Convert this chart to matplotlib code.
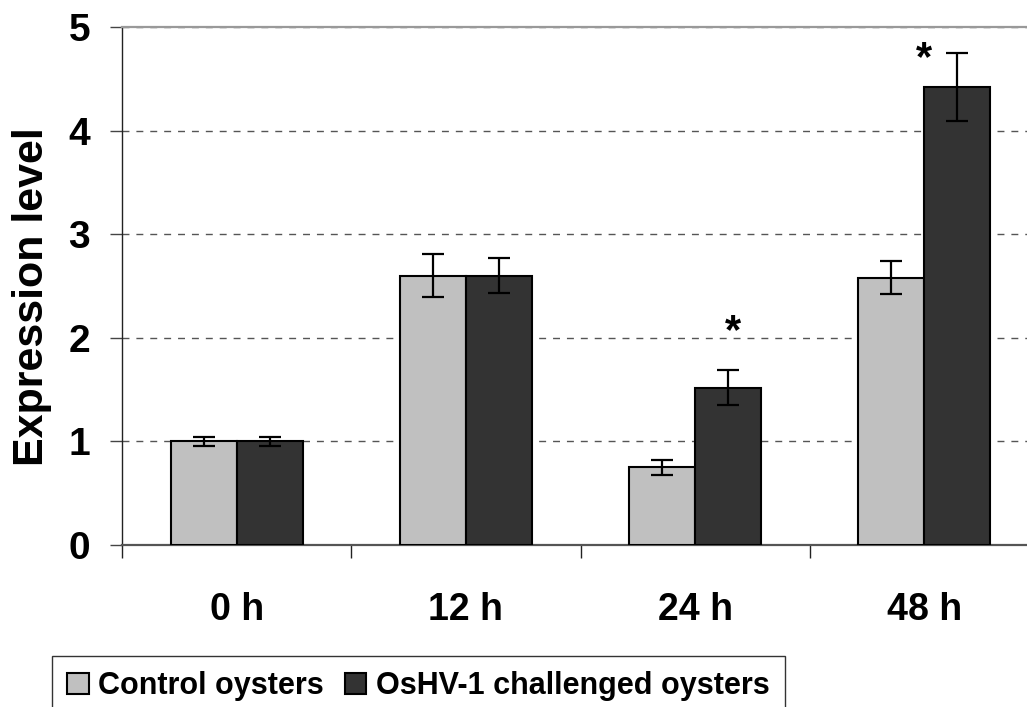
import numpy as np
import matplotlib.pyplot as plt
from matplotlib.ticker import FixedLocator

plt.rcParams['font.family'] = ['Liberation Sans', 'DejaVu Sans']
plt.rcParams['font.weight'] = 'bold'

# expression levels (mean and error) per time point
tiempos = ['0 h', '12 h', '24 h', '48 h']
control = [1.00, 2.60, 0.75, 2.58]
control_err = [0.04, 0.21, 0.07, 0.16]
osHV = [1.00, 2.60, 1.52, 4.42]
osHV_err = [0.04, 0.17, 0.17, 0.33]
series = ['Control oysters', 'OsHV-1 challenged oysters']
# significance stars: (category index, y value)
estrellas = [(2, 2.06), (3, 4.69)]

x = np.arange(len(tiempos))
w = 0.288

fig = plt.figure(figsize=(10.27, 7.07), dpi=100)
ax = fig.add_axes([122/1027, 162/707, 917/1027, 518/707])

ax.bar(x - w/2, control, w, color='#c0c0c0', edgecolor='black', linewidth=1.5,
       label=series[0], zorder=3)
ax.bar(x + w/2, osHV, w, color='#333333', edgecolor='black', linewidth=1.5,
       label=series[1], zorder=3)
ax.errorbar(x - w/2, control, yerr=control_err, fmt='none', ecolor='black',
            elinewidth=1.6, capsize=8, capthick=1.6, zorder=4)
ax.errorbar(x + w/2, osHV, yerr=osHV_err, fmt='none', ecolor='black',
            elinewidth=1.6, capsize=8, capthick=1.6, zorder=4)

for i, yv in estrellas:
    xs = i + w/2 + 0.02 if i == 2 else i
    ax.text(xs, yv, '*', ha='center', va='center', fontsize=30,
            fontweight='bold', zorder=5)

ax.set_xlim(-0.5, 3.5)
ax.set_ylim(0, 5)
ax.set_yticks([0, 1, 2, 3, 4, 5])
ax.yaxis.grid(True, linestyle=(0, (5, 5)), color='#555555', linewidth=1, zorder=0)
ax.set_axisbelow(True)

ax.set_xticks(x)
ax.set_xticklabels(tiempos, fontsize=27, fontweight='bold')
ax.xaxis.set_minor_locator(FixedLocator([-0.5, 0.5, 1.5, 2.5]))
ax.tick_params(axis='x', which='major', length=0, pad=34)
ax.tick_params(axis='x', which='minor', length=9, width=1, color='#222222',
               direction='out')
ax.tick_params(axis='y', length=9, width=1, color='#444444', direction='out',
               labelsize=28, pad=14)
for t in ax.get_yticklabels():
    t.set_fontweight('bold')

ax.spines['right'].set_visible(False)
ax.spines['top'].set_color('#999999')
ax.spines['top'].set_linewidth(1.6)
ax.spines['left'].set_color('#222222')
ax.spines['left'].set_linewidth(1)
ax.spines['bottom'].set_color('#555555')
ax.spines['bottom'].set_linewidth(1.6)

ax.set_ylabel('Expression level', fontsize=31, fontweight='bold')
ax.yaxis.set_label_coords(-0.076, 0.479)

leg = fig.legend(loc='upper left', bbox_to_anchor=(52/1027, 1 - 656/707),
                 ncol=2, frameon=True, fancybox=False,
                 handlelength=0.7, handleheight=0.7, handletextpad=0.3,
                 columnspacing=0.7, borderaxespad=0, borderpad=0.5,
                 prop={'weight': 'bold', 'size': 22})
leg.get_frame().set_edgecolor('black')
leg.get_frame().set_linewidth(1)

fig.savefig('out.png', dpi=100)
